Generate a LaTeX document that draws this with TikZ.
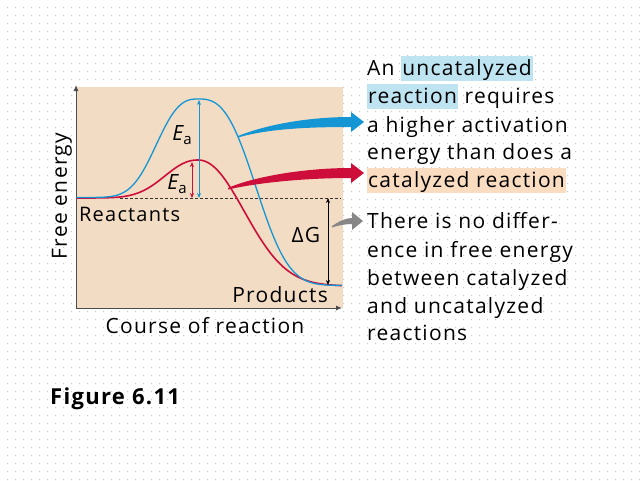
\documentclass[tikz,border=0pt]{standalone}
\usepackage{fontspec}
\setmainfont{Open Sans}[LetterSpace=6]
\usetikzlibrary{calc,arrows.meta}
\definecolor{panelfill}{RGB}{242,221,196}
\definecolor{uncatblue}{RGB}{20,150,212}
\definecolor{catred}{RGB}{206,14,58}
\definecolor{hlblue}{RGB}{190,228,242}
\definecolor{hlpeach}{RGB}{250,220,192}
\definecolor{gridgray}{RGB}{200,200,200}
\definecolor{notegray}{RGB}{135,135,135}
\newcommand{\hlword}[2]{{\setlength{\fboxsep}{1pt}\colorbox{#1}{\rule[-5pt]{0pt}{23pt}#2}}}
\newcommand{\eact}{{\itshape E}\raisebox{-0.4ex}{\fontsize{15}{18}\selectfont a}}

\begin{document}
\begin{tikzpicture}[x=1pt,y=-1pt]
  \tikzset{axisline/.style={draw=black!70,line width=1pt}}
  \tikzset{levelline/.style={draw=black!80,line width=0.6pt,dash pattern=on 3pt off 2pt}}
  \tikzset{gapline/.style={line width=0.8pt,{Stealth[length=5pt,width=4pt]}-{Stealth[length=5pt,width=4pt]}}}
  \tikzset{plotlabel/.style={font=\fontsize{21}{25}\selectfont,inner sep=0pt}}
  \tikzset{notetext/.style={font=\fontsize{21}{28}\selectfont,inner sep=0pt,anchor=base west}}
  \useasboundingbox (0,0) rectangle (640,480);
  \fill[white] (0,0) rectangle (640,480);
  % dotted background
  \fill[gridgray] \foreach \i in {0,...,79}{\foreach \j in {0,...,59}{(7+8*\i,7+8*\j) rectangle ++(1,1)}};
  % panel and axes
  \fill[panelfill] (76,87) rectangle (343,308);
  \coordinate (origin) at (76,308);
  \coordinate (ytop) at (76,85);
  \coordinate (xend) at (342,308);
  \draw[axisline,-{Latex[length=6pt,width=5pt]}] (origin) -- (ytop);
  \draw[axisline,-{Latex[length=6pt,width=5pt]}] (origin) -- (xend);
  % energy levels
  \coordinate (reactlvl) at (120,198);
  \coordinate (reactend) at (341,198);
  \draw[levelline] (reactlvl) -- (reactend);
  % curves
  \draw[catred,line width=1.6pt] plot[domain=76:198,samples=50] (\x,{198-38*exp(-(((abs(\x-198)+0.01)/43.6)^2.2))})
    -- plot[domain=198:342,samples=60] (\x,{286-126*exp(-(((abs(\x-198)+0.01)/63)^2.1))});
  \draw[uncatblue,line width=1.3pt] plot[domain=76:198,samples=50] (\x,{197.5-98.5*exp(-(((abs(\x-198)+0.01)/49.7)^2.7))})
    -- plot[domain=198:342,samples=60] (\x,{285.5-186.5*exp(-(((abs(\x-198)+0.01)/68)^2.8))});
  % activation energies and free energy change
  \coordinate (bpeak) at (199,100);
  \coordinate (bbase) at (199,198);
  \coordinate (rpeak) at (192,162);
  \coordinate (rbase) at (192,198);
  \coordinate (dgtop) at (328,198);
  \coordinate (dgbot) at (328,285);
  \draw[gapline,uncatblue] (bpeak) -- (bbase);
  \draw[gapline,catred] (rpeak) -- (rbase);
  \draw[gapline,black] (dgtop) -- (dgbot);
  \node[plotlabel] (eablue) at (182,135) {\eact};
  \node[plotlabel] (eared) at (177,184) {\eact};
  \node[plotlabel] (dg) at (306,235) {ΔG};
  \node[plotlabel,anchor=west,font=\fontsize{20}{24}\selectfont] (react) at (79,214) {Reactants};
  \node[plotlabel,anchor=east] (prod) at (328,295) {Products};
  \node[plotlabel] (xlabel) at (205,326) {Course of reaction};
  \node[plotlabel,rotate=90] (ylabel) at (62,196) {Free energy};
  \node[font=\fontsize{22}{26}\selectfont\bfseries,inner sep=0pt,anchor=west] (fig) at (50,399) {Figure 6.11};
  % notes
  \node[notetext] (nline1) at (367,75) {An \hlword{hlblue}{uncatalyzed}};
  \node[notetext] (nline2) at (367,103) {\hlword{hlblue}{reaction} requires};
  \node[notetext] (nline3) at (367,132) {a higher activation};
  \node[notetext] (nline4) at (367,159) {energy than does a};
  \node[notetext] (nline5) at (367,187) {\hlword{hlpeach}{catalyzed reaction}};
  \node[notetext] (dline1) at (367,228) {There is no differ-};
  \node[notetext] (dline2) at (367,257) {ence in free energy};
  \node[notetext] (dline3) at (367,285) {between catalyzed};
  \node[notetext] (dline4) at (367,313) {and uncatalyzed};
  \node[notetext] (dline5) at (367,340) {reactions};
  % pointer arrows
  \coordinate (bstart) at (238,136);
  \coordinate (btip) at (364,122);
  \fill[uncatblue] (bstart) .. controls +(30,-12) and +(-41,0) .. ($(btip)+(-13,-5)$)
    -- ($(btip)+(-13,-10)$) -- (btip) -- ($(btip)+(-13,10)$) -- ($(btip)+(-13,5)$)
    .. controls +(-41,0) and +(31,-9) .. ($(bstart)+(0,1.5)$) -- cycle;
  \coordinate (rstart) at (228,188);
  \coordinate (rtip) at (364,173);
  \fill[catred] (rstart) .. controls +(22,-10) and +(-51,0) .. ($(rtip)+(-13,-5)$)
    -- ($(rtip)+(-13,-10)$) -- (rtip) -- ($(rtip)+(-13,10)$) -- ($(rtip)+(-13,5)$)
    .. controls +(-51,0) and +(26,-6) .. ($(rstart)+(0,1.5)$) -- cycle;
  \coordinate (gstart) at (332,226);
  \coordinate (gtip) at (363,221);
  \fill[notegray] (gstart) .. controls +(6,-4) and +(-7,0) .. ($(gtip)+(-11,-3)$)
    -- ($(gtip)+(-11,-9)$) -- (gtip) -- ($(gtip)+(-11,9)$) -- ($(gtip)+(-11,3)$)
    .. controls +(-7,0) and +(6,-2) .. ($(gstart)+(0,1.5)$) -- cycle;
\end{tikzpicture}
\end{document}
